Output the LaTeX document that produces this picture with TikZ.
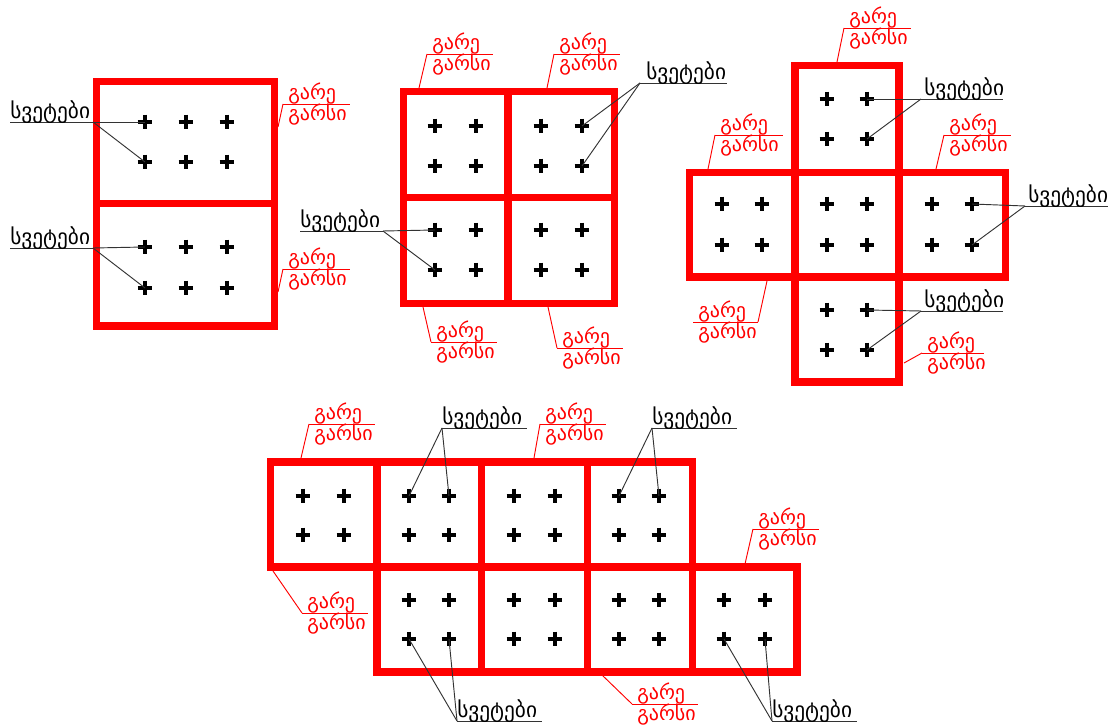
\documentclass[tikz,border=0pt]{standalone}
\usepackage{fontspec}
\newfontfamily\geo{DejaVu Sans}
\usetikzlibrary{calc}
\definecolor{wallred}{RGB}{255,0,0}
\newcommand{\redlabel}[5]{%
  \coordinate (#1L) at #2; \coordinate (#1R) at #3;
  \coordinate (#1A) at #4; \coordinate (#1W) at #5;
  \draw[rldr] (#1L) -- (#1R);
  \node[redtxt, anchor=base west] (#1top) at ($(#1L)+(5,-4.5)$) {გარე};
  \node[redtxt, anchor=base west] (#1bot) at ($(#1L)+(5,16.5)$) {გარსი};
  \draw[rldr] (#1A) -- (#1W);}
\newcommand{\svlabel}[4]{%
  \coordinate (#1L) at #2; \coordinate (#1R) at #3;
  \draw[ldr] (#1L) -- (#1R);
  \node[blktxt, anchor=base west] (#1) at ($(#1L)+(#4,-3.5)$) {სვეტები};}
\begin{document}
\begin{tikzpicture}[x=0.75pt,y=-0.75pt,
  wall/.style={draw=wallred, line width=5.4pt, line join=miter},
  colmark/.style={inner sep=0pt, minimum size=11pt,
    path picture={\draw[line width=2.3pt,black]
      (path picture bounding box.north) -- (path picture bounding box.south)
      (path picture bounding box.west) -- (path picture bounding box.east);}},
  ldr/.style={draw=black!80, line width=0.7pt},
  rldr/.style={draw=wallred, line width=0.7pt},
  blktxt/.style={inner sep=0pt, text=black, font=\geo\fontsize{16}{18}\selectfont},
  redtxt/.style={inner sep=0pt, text=wallred, font=\geo\fontsize{15}{18}\selectfont}]
\fill[white] (0,0) rectangle (1111,727);
\useasboundingbox (0,0) rectangle (1111,727);

% ---------- walls ----------
% figure 1
\draw[wall] (96.5,81.5) rectangle (274.5,326);
\draw[wall] (96.5,203.5) -- (274.5,203.5);
% figure 2
\draw[wall] (403.5,91.5) rectangle (614.5,303.5);
\draw[wall] (508,91.5) -- (508,303.5);
\draw[wall] (403.5,197.5) -- (614.5,197.5);
% figure 3
\draw[wall] (795,65.5) rectangle (899,172.5);
\draw[wall] (689.5,172.5) rectangle (1005.5,277);
\draw[wall] (795,277) rectangle (899,382);
\draw[wall] (795,172.5) -- (795,277);
\draw[wall] (899,172.5) -- (899,277);
% figure 4
\draw[wall] (270.5,462) rectangle (692.5,567);
\draw[wall] (377,567) rectangle (797,672);
\foreach \x in {377,481.5,587.5} \draw[wall] (\x,462) -- (\x,567);
\foreach \x in {481.5,587.5,692.5} \draw[wall] (\x,567) -- (\x,672);

% ---------- columns ----------
\foreach \x in {145,186,227} \foreach \y in {122,162,247,288}
  \node[colmark] (A\x x\y) at (\x,\y) {};
\foreach \x in {435,476,541,582} \foreach \y in {126,166,230,270}
  \node[colmark] (B\x x\y) at (\x,\y) {};
\foreach \x in {827,867} \foreach \y in {99,139,310,350}
  \node[colmark] (C\x x\y) at (\x,\y) {};
\foreach \x in {722,762,827,867,932,972} \foreach \y in {204,245}
  \node[colmark] (C\x x\y) at (\x,\y) {};
\foreach \x in {303,344,409,449,514,555,619,659} \foreach \y in {496,535}
  \node[colmark] (D\x x\y) at (\x,\y) {};
\foreach \x in {409,449,514,555,619,659,724,765} \foreach \y in {600,639}
  \node[colmark] (D\x x\y) at (\x,\y) {};

% ---------- red labels (outer shell) ----------
\redlabel{ra}{(283,104)}{(350,104)}{(283,104)}{(278,127)}
\redlabel{rb}{(283,269)}{(350,269)}{(283,269)}{(278,292)}
\redlabel{rc}{(427,54)}{(493,54)}{(427,54)}{(419,88)}
\redlabel{rd}{(554,54)}{(620,54)}{(554,54)}{(547,88)}
\redlabel{re}{(431,342)}{(497,342)}{(431,342)}{(423,307)}
\redlabel{rf}{(557,348)}{(623,348)}{(557,348)}{(548,307)}
\redlabel{rg}{(844,28)}{(911,28)}{(844,28)}{(837,62)}
\redlabel{rh}{(715,135)}{(783,135)}{(715,135)}{(708,169)}
\redlabel{ri}{(944,135)}{(1011,135)}{(944,135)}{(936,169)}
\redlabel{rj}{(693,322)}{(758,322)}{(758,322)}{(767,281)}
\redlabel{rk}{(922,353)}{(984,353)}{(922,353)}{(904,363)}
\redlabel{rl}{(309,424)}{(375,424)}{(309,424)}{(301,458)}
\redlabel{rm}{(540,424)}{(606,424)}{(540,424)}{(534,458)}
\redlabel{rn}{(753,529)}{(819,529)}{(753,529)}{(745,564)}
\redlabel{ro}{(302,613)}{(368,613)}{(302,613)}{(273,571)}
\redlabel{rp}{(632,704)}{(698,704)}{(632,704)}{(602,675)}

% ---------- black labels (columns) ----------
\svlabel{sa}{(10,122)}{(93,122)}{0}
\draw[ldr] (saR) -- (A145x122.center);
\draw[ldr] (saR) -- (A145x162.center);
\svlabel{sb}{(10,248)}{(93,248)}{0}
\draw[ldr] (sbR) -- (A145x247.center);
\draw[ldr] (sbR) -- (A145x288.center);
\svlabel{sc}{(300,231)}{(383,231)}{0}
\draw[ldr] (scR) -- (B435x230.center);
\draw[ldr] (scR) -- (B435x270.center);
\svlabel{sd}{(640,83)}{(727,83)}{6}
\draw[ldr] (sdL) -- (B582x126.center);
\draw[ldr] (sdL) -- (B582x166.center);
\svlabel{se}{(921,99)}{(1003,99)}{3}
\draw[ldr] (seL) -- (C867x99.center);
\draw[ldr] (seL) -- (C867x139.center);
\svlabel{sf}{(1025,206)}{(1108,206)}{3}
\draw[ldr] (sfL) -- (C972x204.center);
\draw[ldr] (sfL) -- (C972x245.center);
\svlabel{sg}{(921,311)}{(1003,311)}{3}
\draw[ldr] (sgL) -- (C867x310.center);
\draw[ldr] (sgL) -- (C867x350.center);
\svlabel{sh}{(442,428)}{(527,428)}{0}
\draw[ldr] (shL) -- (D409x496.center);
\draw[ldr] (shL) -- (D449x496.center);
\svlabel{si}{(652,428)}{(737,428)}{0}
\draw[ldr] (siL) -- (D619x496.center);
\draw[ldr] (siL) -- (D659x496.center);
\svlabel{sj}{(457,721)}{(542,721)}{0}
\draw[ldr] (sjL) -- (D409x639.center);
\draw[ldr] (sjL) -- (D449x639.center);
\svlabel{sk}{(772,721)}{(857,721)}{0}
\draw[ldr] (skL) -- (D724x639.center);
\draw[ldr] (skL) -- (D765x639.center);
\end{tikzpicture}
\end{document}
